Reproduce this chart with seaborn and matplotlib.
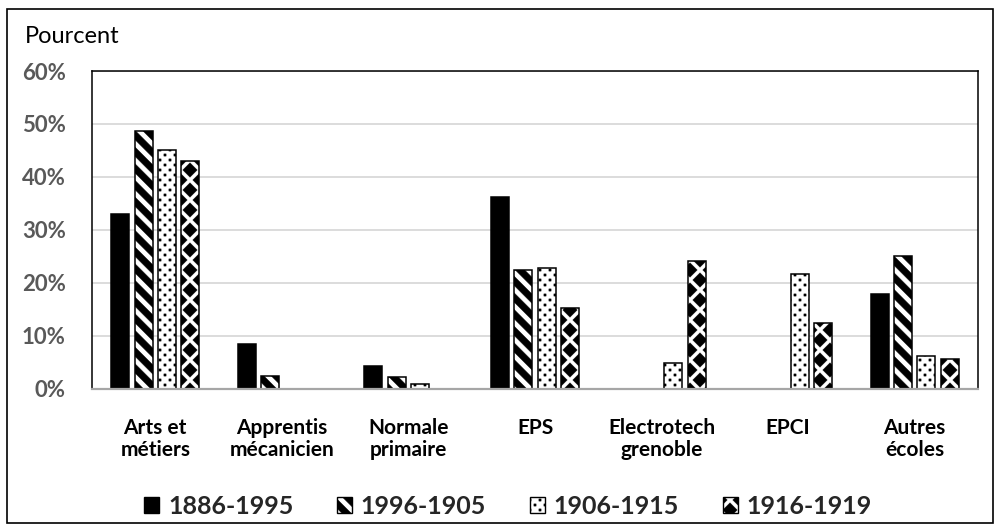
import numpy as np
import pandas as pd
import matplotlib
matplotlib.use('Agg')
import matplotlib.pyplot as plt
import matplotlib.hatch as mhatch
from matplotlib.path import Path
from matplotlib.patches import Patch, Rectangle
import seaborn as sns

# data (share of pupils, %)
ecoles = ['Arts et\nmétiers', 'Apprentis\nmécanicien', 'Normale\nprimaire', 'EPS',
          'Electrotech\ngrenoble', 'EPCI', 'Autres\nécoles']
periodes = ['1886-1995', '1996-1905', '1906-1915', '1916-1919']
p1886 = [33.0, 8.4, 4.2, 36.2, None, None, 17.9]
p1996 = [48.7, 2.4, 2.1, 22.4, None, None, 25.0]
p1906 = [45.0, None, 0.8, 22.7, 4.8, 21.7, 6.2]
p1916 = [42.9, None, None, 15.2, 24.1, 12.4, 5.6]
yticks = [0, 10, 20, 30, 40, 50, 60]

series = [p1886, p1996, p1906, p1916]
couleurs = ['black', 'white', 'white', 'white']
motifs = ['', '\\', '.', '*']

rows = []
for per, vals in zip(periodes, series):
    for ec, v in zip(ecoles, vals):
        rows.append({'ecole': ec, 'periode': per, 'pct': v})
df = pd.DataFrame(rows).dropna()


# Excel-like fill patterns: thick stripes, small dots, diamond checkerboard
class MotifHatch(mhatch.HatchPatternBase):
    def __init__(self, hatch, density):
        polys = []
        if '\\' in hatch:
            n, w = 6, 0.56 / 6
            for k in range(-n, 3 * n + 1):
                c = k / n
                polys.append([(c - w / 2 + 0.5, -0.5), (c + w / 2 + 0.5, -0.5),
                              (c + w / 2 - 1.5, 1.5), (c - w / 2 - 1.5, 1.5)])
        if '.' in hatch:
            n, h = 10, 0.011
            for i in range(-1, n + 2):
                for j in range(-1, n + 2):
                    for d in (0.0, 0.5):
                        cx, cy = (i + d) / n, (j + d) / n
                        polys.append([(cx - h, cy - h), (cx + h, cy - h),
                                      (cx + h, cy + h), (cx - h, cy + h)])
        if '*' in hatch:
            n, r = 5, 0.072
            for i in range(-1, n + 2):
                for j in range(-1, n + 2):
                    for d in (0.0, 0.5):
                        cx, cy = (i + d) / n, (j + d) / n
                        polys.append([(cx - r, cy), (cx, cy - r),
                                      (cx + r, cy), (cx, cy + r)])
        self.polys = polys
        self.num_vertices = 5 * len(polys)

    def set_vertices_and_codes(self, vertices, codes):
        for i, p in enumerate(self.polys):
            vertices[5 * i:5 * i + 4] = p
            vertices[5 * i + 4] = p[0]
            codes[5 * i] = Path.MOVETO
            codes[5 * i + 1:5 * i + 4] = Path.LINETO
            codes[5 * i + 4] = Path.CLOSEPOLY


mhatch._hatch_types = [MotifHatch]

sns.set_style('white')
plt.rcParams['font.family'] = ['Lato', 'DejaVu Sans']
plt.rcParams['hatch.linewidth'] = 0.3

fig = plt.figure(figsize=(9.96, 5.26), dpi=100)
ax = fig.add_axes([92 / 996, 1 - 388.5 / 526, 886 / 996, 317.5 / 526])

sns.barplot(data=df, x='ecole', y='pct', hue='periode', order=ecoles, hue_order=periodes,
            palette=dict(zip(periodes, couleurs)), edgecolor='black', linewidth=1.1,
            width=0.737, gap=0.23, legend=False, ax=ax)

for cont, m in zip(ax.containers, motifs):
    for bar in cont:
        bar.set_hatch(m)

ax.set_xlim(-0.5, len(ecoles) - 0.5)
ax.set_ylim(0, 60)
ax.set_yticks(yticks)
ax.set_yticklabels([f'{v}%' for v in yticks], fontsize=16, fontweight='bold', color='#595959')
ax.set_xticks(range(len(ecoles)))
ax.set_xticklabels(ecoles, fontsize=15, fontweight='bold', color='black', linespacing=1.12)
ax.tick_params(axis='y', length=0, pad=19)
ax.tick_params(axis='x', length=0, pad=21)
ax.set_xlabel('')
ax.set_ylabel('')

ax.set_axisbelow(True)
ax.yaxis.grid(True, color='#D9D9D9', linewidth=1.3)
for side in ['top', 'right', 'left']:
    ax.spines[side].set_color('black')
    ax.spines[side].set_linewidth(1.1)
ax.spines['bottom'].set_color('#A6A6A6')
ax.spines['bottom'].set_linewidth(1.6)

fig.text(25 / 996, 1 - 43 / 526, 'Pourcent', fontsize=17, color='black', ha='left', va='baseline')

handles = [Patch(facecolor=c, edgecolor='black', hatch=m, linewidth=1.0)
           for c, m in zip(couleurs, motifs)]
fig.legend(handles, periodes, loc='center', bbox_to_anchor=(508 / 996, 1 - 506 / 526), ncol=4,
           frameon=False, prop={'size': 18, 'weight': 'bold'}, handlelength=0.6,
           handleheight=0.6, handletextpad=0.35, columnspacing=1.75, borderpad=0)

fig.patches.append(Rectangle((7 / 996, 3 / 526), 986 / 996, 514 / 526, transform=fig.transFigure,
                             fill=False, edgecolor='black', linewidth=1.2))

fig.savefig('out.png', dpi=100)
